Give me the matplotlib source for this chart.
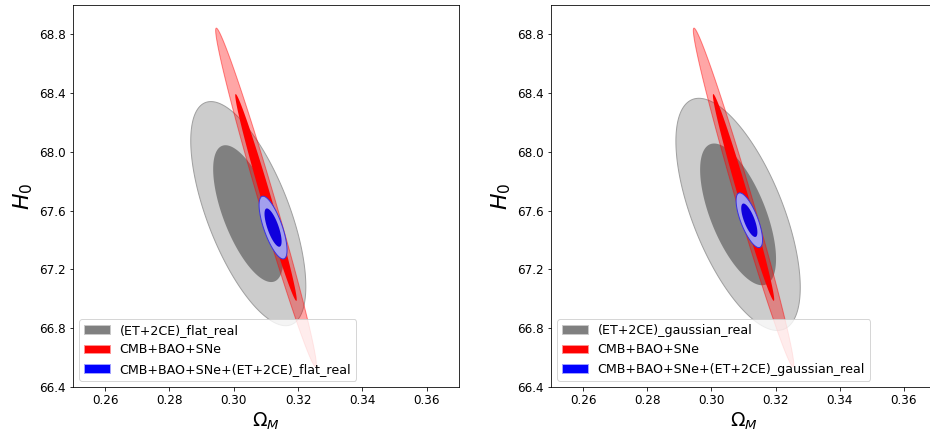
import matplotlib
matplotlib.use("Agg")
import matplotlib.pyplot as plt
import numpy as np
from matplotlib.patches import Patch

# Fisher-forecast style constraints in the (Omega_M, H0) plane
# each entry: centre, sigma(Omega_M), sigma(H0), correlation
gw_flat_center = [0.3045, 67.58]
gw_flat_sigma = [0.0072, 0.307]
gw_flat_rho = -0.65

gw_gauss_center = [0.3083, 67.575]
gw_gauss_sigma = [0.0078, 0.318]
gw_gauss_rho = -0.63

cmb_center = [0.3100, 67.69]
cmb_sigma = [0.0063, 0.464]
cmb_rho = -0.986

comb_flat_center = [0.3122, 67.485]
comb_flat_sigma = [0.00175, 0.086]
comb_flat_rho = -0.72

comb_gauss_center = [0.3118, 67.535]
comb_gauss_sigma = [0.00166, 0.075]
comb_gauss_rho = -0.72

levels = [6.17, 2.30]  # 2-sigma, 1-sigma (delta chi^2, 2 params)

panels = [
    ("flat_real", gw_flat_center, gw_flat_sigma, gw_flat_rho,
     comb_flat_center, comb_flat_sigma, comb_flat_rho),
    ("gaussian_real", gw_gauss_center, gw_gauss_sigma, gw_gauss_rho,
     comb_gauss_center, comb_gauss_sigma, comb_gauss_rho),
]

xticks = [0.26, 0.28, 0.30, 0.32, 0.34, 0.36]
yticks = [66.4, 66.8, 67.2, 67.6, 68.0, 68.4, 68.8]


def ellipse_xy(center, sigma, rho, dchi2):
    t = np.linspace(0, 2 * np.pi, 400)
    sx, sy = sigma
    L = np.array([[sx, 0.0], [rho * sy, sy * np.sqrt(1 - rho ** 2)]])
    pts = np.sqrt(dchi2) * L @ np.vstack([np.cos(t), np.sin(t)])
    return center[0] + pts[0], center[1] + pts[1]


def draw(ax, center, sigma, rho, outer_style, inner_style):
    x, y = ellipse_xy(center, sigma, rho, levels[0])
    ax.fill(x, y, **outer_style)
    x, y = ellipse_xy(center, sigma, rho, levels[1])
    ax.fill(x, y, **inner_style)


fig = plt.figure(figsize=(930 / 72, 445 / 72), dpi=72)
positions = [[0.0785, 0.1303, 0.415, 0.8585], [0.5925, 0.1303, 0.414, 0.8585]]

for pos, (tag, gc, gs, gr, bc, bs, br) in zip(positions, panels):
    ax = fig.add_axes(pos)

    draw(ax, gc, gs, gr,
         dict(facecolor="#cccccc", edgecolor="#a0a0a0", lw=1.0),
         dict(facecolor="#808080", edgecolor="none"))
    draw(ax, cmb_center, cmb_sigma, cmb_rho,
         dict(facecolor=(1, 0, 0, 0.35), edgecolor=(1, 0, 0, 0.45), lw=1.0),
         dict(facecolor="red", edgecolor="none"))
    draw(ax, bc, bs, br,
         dict(facecolor="#a3a0ee", edgecolor="#3a33e0", lw=1.0),
         dict(facecolor="#1000dd", edgecolor="none"))

    handles = [
        Patch(facecolor="#808080", edgecolor="#c8c8c8", label="(ET+2CE)_" + tag),
        Patch(facecolor="red", edgecolor="#ff9090", label="CMB+BAO+SNe"),
        Patch(facecolor="blue", edgecolor="#a0a0ff",
              label="CMB+BAO+SNe+(ET+2CE)_" + tag),
    ]
    ax.legend(handles=handles, loc="lower left", fontsize=12.6)

    ax.set_xlim(0.25, 0.37)
    ax.set_ylim(66.4, 69.0)
    ax.set_xticks(xticks)
    ax.set_xticklabels(["%.2f" % v for v in xticks])
    ax.set_yticks(yticks)
    ax.set_yticklabels(["%.1f" % v for v in yticks])
    ax.tick_params(labelsize=12)
    ax.set_xlabel(r"$\Omega_M$", fontsize=19)
    ax.set_ylabel(r"$H_0$", fontsize=22)

fig.savefig("out.png", dpi=72)
